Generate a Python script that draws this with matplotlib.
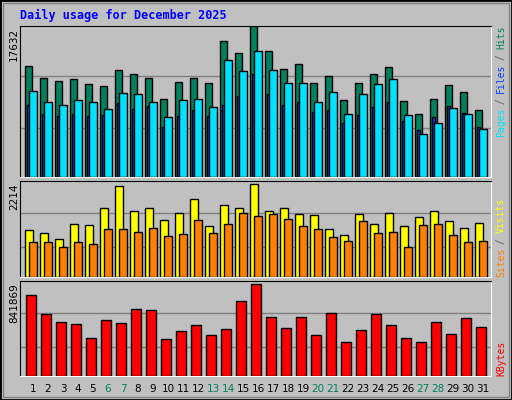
import numpy as np
import matplotlib.pyplot as plt
from matplotlib.patches import Rectangle

# Data
days = list(range(1, 32))
weekend = [6, 7, 13, 14, 20, 21, 27, 28]
hits = [12883, 11481, 11170, 11365, 10781, 10548, 12415, 11948, 11481, 9029, 11014, 11481, 10897, 15801, 14400,
        17632, 14633, 12532, 13116, 10897, 11714, 8912, 10897, 11948, 12765, 8796, 7278, 9029, 10664, 9846, 7745]
pages = [9963, 8679, 8329, 8912, 8679, 7862, 9730, 9613, 8679, 6927, 8912, 9029, 8095, 13583, 12298,
         14633, 12415, 10897, 10897, 8679, 9846, 7278, 9613, 10781, 11365, 7161, 5059, 6227, 7978, 7278, 5643]
files = [8329, 7278, 7044, 7278, 7044, 7161, 8562, 7862, 8212, 5877, 7044, 7745, 7044, 8329, 9379,
         11948, 9613, 8329, 8679, 7511, 7745, 6227, 7161, 8095, 8679, 6460, 5526, 6927, 8212, 7394, 5877]
visits = [1131, 1059, 914, 1275, 1251, 1636, 2165, 1564, 1636, 1371, 1516, 1853, 1227, 1708, 1636,
          2214, 1564, 1636, 1492, 1468, 1155, 1011, 1492, 1275, 1516, 1227, 1420, 1564, 1347, 1179, 1299]
sites = [842, 842, 722, 842, 794, 1155, 1155, 1083, 1179, 986, 1035, 1371, 1059, 1275, 1516,
         1444, 1492, 1395, 1227, 1155, 962, 866, 1347, 1059, 1083, 722, 1251, 1275, 1011, 842, 866]
kbytes = [740160, 564372, 499608, 481104, 351576, 518112, 490356, 610632, 601380, 342324, 416340, 471852,
          379332, 434844, 684648, 841869, 536616, 444096, 536616, 379332, 573624, 314568, 425592, 564372,
          471852, 351576, 314568, 499608, 388584, 527364, 453348]

GREEN = '#00805C'
BLUE = '#0040FF'
CYAN = '#00E0FF'
YELLOW = '#FFFF00'
ORANGE = '#FF8000'
RED = '#FF0000'
BG = '#C0C0C0'
W, H = 512, 400

fig = plt.figure(figsize=(W / 100, H / 100), dpi=100, facecolor=BG)
fig.patches.append(Rectangle((0, 0), 1, 1, transform=fig.transFigure, fill=False, ec='black', lw=2))
fig.patches.append(Rectangle((3 / W, 3 / H), 1 - 6 / W, 1 - 6 / H, transform=fig.transFigure,
                             fill=False, ec='#808080', lw=1))


def panel(y0, y1):
    ax = fig.add_axes([20 / W, 1 - y1 / H, 471 / W, (y1 - y0) / H], facecolor=BG)
    ax.set_xlim(-0.33, 31.07)
    ax.set_xticks([])
    ax.set_yticks([])
    for s in ['left', 'top']:
        ax.spines[s].set_color('black')
    for s in ['right', 'bottom']:
        ax.spines[s].set_color('white')
    return ax


x = np.array(days) - 1
kw = dict(align='edge', edgecolor='black', linewidth=1, zorder=3)

ax1 = panel(25.5, 177)
ax1.set_ylim(0, 17632)
for g in [5760, 11715]:
    ax1.axhline(g, color='#808080', lw=1, zorder=1)
ax1.bar(x, hits, width=0.47, color=GREEN, **kw)
ax1.bar(x + 0.15, files, width=0.2, color=BLUE, **kw)
ax1.bar(x + 0.27, pages, width=0.53, color=CYAN, **kw)

ax2 = panel(180.5, 277)
ax2.set_ylim(0, 2302)
for g in [722, 1516]:
    ax2.axhline(g, color='#808080', lw=1, zorder=1)
ax2.bar(x, visits, width=0.53, color=YELLOW, **kw)
ax2.bar(x + 0.27, sites, width=0.53, color=ORANGE, **kw)

ax3 = panel(280.5, 376)
ax3.set_ylim(0, 875856)
for g in [268308, 573624]:
    ax3.axhline(g, color='#808080', lw=1, zorder=1)
ax3.bar(x + 0.07, kbytes, width=0.67, color=RED, **kw)

mono = 'DejaVu Sans Mono'
fig.text(20 / W, 1 - 15 / H, 'Daily usage for December 2025', color='#0000FF', fontsize=8.5,
         fontweight='bold', family=mono, va='center')

for ytop, lab in [(28, str(max(hits))), (183, str(max(visits))), (283, str(max(kbytes)))]:
    fig.text(14 / W, 1 - ytop / H, lab, rotation=90, fontsize=7.5, va='top', ha='center')


def right_label(ybottom, parts):
    y = 1 - ybottom / H
    for txt, col in parts:
        fig.text(501 / W, y, txt, rotation=90, fontsize=7, color=col, family=mono,
                 va='bottom', ha='center')
        y += len(txt) * 5.5 / H


right_label(137, [('Pages', CYAN), (' / ', '#606060'), ('Files', BLUE), (' / ', '#606060'), ('Hits', GREEN)])
right_label(277, [('Sites', ORANGE), (' / ', '#606060'), ('Visits', YELLOW)])
right_label(376, [('KBytes', RED)])

for d in days:
    fig.text((20 + 15 * (d - 1) + 13) / W, 1 - 389 / H, str(d), fontsize=7.5, ha='center', va='center',
             color=GREEN if d in weekend else 'black')

fig.savefig('out.png', dpi=100, facecolor=BG)
